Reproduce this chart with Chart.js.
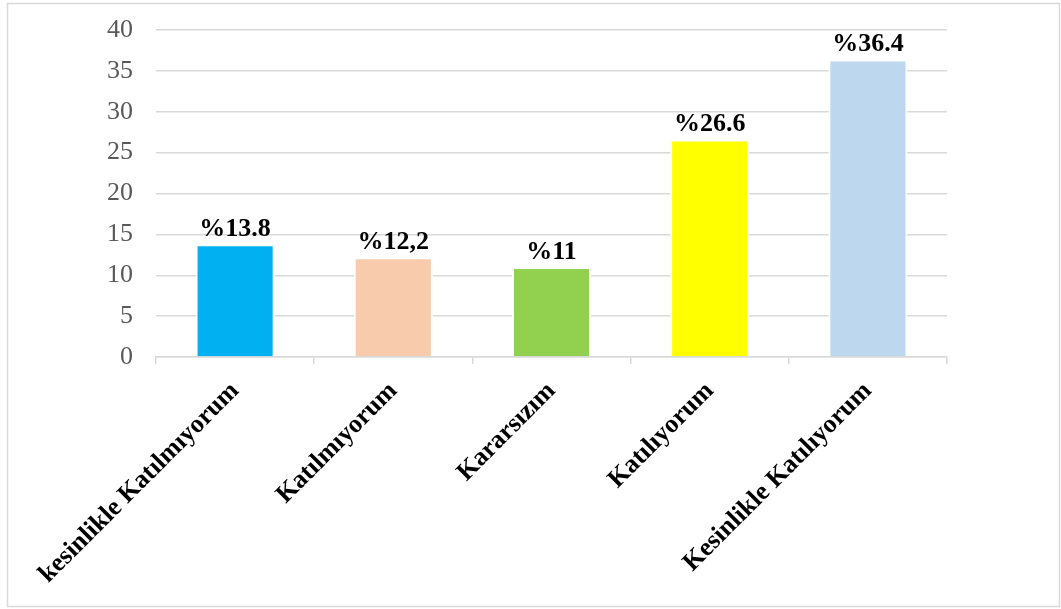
<!DOCTYPE html>
<html><head><meta charset="utf-8">
<script src="https://cdn.jsdelivr.net/npm/chart.js@4.4.0/dist/chart.umd.min.js"></script>
<style>html,body{margin:0;padding:0;background:#fff;overflow:hidden}#wrap{width:1061px;height:609px;position:relative}</style>
</head><body><div id="wrap"><canvas id="c" width="1061" height="609"></canvas></div>
<script>
const categories = ['kesinlikle Katılmıyorum', 'Katılmıyorum', 'Kararsızım', 'Katılıyorum', 'Kesinlikle Katılıyorum'];
const values = [13.8, 12.2, 11, 26.6, 36.4];
const valueLabels = ['%13.8', '%12,2', '%11', '%26.6', '%36.4'];
const barColors = ['#00B0F0', '#F8CBAD', '#92D050', '#FFFF00', '#BDD7EE'];
const yMin = 0, yMax = 40, yStep = 5;

const SERIF = '"Liberation Serif", "Times New Roman", serif';

const framePlugin = {
  id: 'frame',
  beforeDraw(chart) {
    const ctx = chart.ctx;
    ctx.save();
    ctx.fillStyle = '#fff';
    ctx.fillRect(0, 0, chart.width, chart.height);
    ctx.strokeStyle = '#d9d9d9';
    ctx.lineWidth = 1.5;
    ctx.strokeRect(7.5, 3.5, chart.width - 9, chart.height - 6);
    ctx.restore();
  }
};

const valueLabelPlugin = {
  id: 'valueLabels',
  afterDatasetsDraw(chart) {
    const ctx = chart.ctx;
    const meta = chart.getDatasetMeta(0);
    ctx.save();
    ctx.font = 'bold 26px ' + SERIF;
    ctx.fillStyle = '#000';
    ctx.textAlign = 'center';
    ctx.textBaseline = 'bottom';
    meta.data.forEach((bar, i) => {
      ctx.fillText(valueLabels[i], bar.x, bar.y - 2);
    });
    ctx.restore();
  }
};

new Chart(document.getElementById('c'), {
  type: 'bar',
  data: {
    labels: categories,
    datasets: [{
      data: values,
      backgroundColor: barColors,
      borderColor: '#ffffff',
      borderWidth: 2,
      barPercentage: 0.5,
      categoryPercentage: 1.0
    }]
  },
  options: {
    responsive: false,
    animation: false,
    devicePixelRatio: 1,
    layout: { padding: { top: 30, right: 114, bottom: 0, left: 0 } },
    plugins: { legend: { display: false }, tooltip: { enabled: false } },
    scales: {
      x: {
        afterFit(scale) { scale.height = 252; scale.paddingLeft = 0; scale.paddingRight = 0; },
        grid: { drawOnChartArea: false, drawTicks: true, tickLength: 7, color: '#d9d9d9', lineWidth: 1.5 },
        border: { color: '#d9d9d9', width: 1.5 },
        ticks: {
          color: '#000',
          font: { family: SERIF, size: 26, weight: 'bold' },
          minRotation: 45, maxRotation: 45, autoSkip: false, padding: 12
        }
      },
      y: {
        min: yMin, max: yMax,
        afterFit(scale) { scale.width = 156; scale.paddingTop = 0; scale.paddingBottom = 0; },
        grid: { color: '#d9d9d9', lineWidth: 1.5, drawTicks: false },
        border: { display: false },
        ticks: {
          stepSize: yStep,
          color: '#595959',
          font: { family: SERIF, size: 26 },
          padding: 23
        }
      }
    }
  },
  plugins: [framePlugin, valueLabelPlugin]
});
</script></body></html>
